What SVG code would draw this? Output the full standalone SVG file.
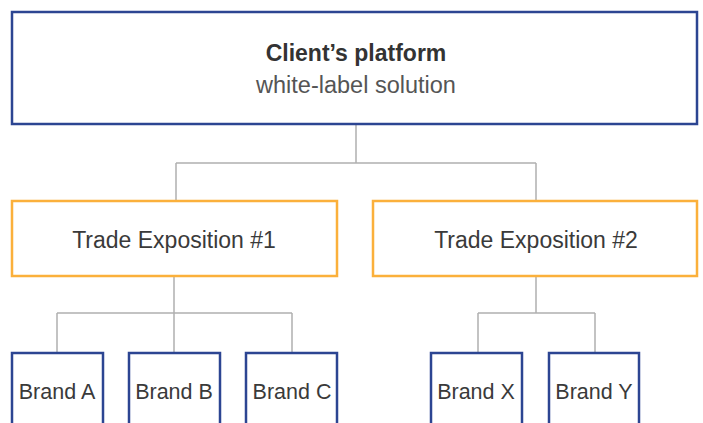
<svg xmlns="http://www.w3.org/2000/svg" width="703" height="423" viewBox="0 0 703 423">
<style>
.navy{fill:#fff;stroke:#2c4592;stroke-width:2.5}
.orange{fill:#fff;stroke:#fbb03b;stroke-width:2.5}
.conn{fill:none;stroke:#b0b0b0;stroke-width:1.5}
text{font-family:"Liberation Sans",Arial,sans-serif;text-anchor:middle;fill:#3a3a3a}
.title{font-size:23px;font-weight:bold;fill:#333}
.sub{font-size:23.5px;fill:#555}
.te{font-size:23px}
.br{font-size:21.5px}
</style>
<rect width="703" height="423" fill="#fff"/>
<g id="connectors">
<path class="conn" d="M356 124V163M176 163H536M176 163V201M536 163V201"/>
<path class="conn" d="M174 277V313M57 313H292M57 313V352M174 313V352M292 313V352"/>
<path class="conn" d="M536 277V313M478 313H595M478 313V352M595 313V352"/>
</g>
<g id="client">
<rect class="navy" x="12" y="12" width="685" height="112"/>
<text class="title" x="356" y="61">Client’s platform</text>
<text class="sub" x="356" y="93">white-label solution</text>
</g>
<g id="te1">
<rect class="orange" x="12" y="201" width="325" height="75"/>
<text class="te" x="174" y="248">Trade Exposition #1</text>
</g>
<g id="te2">
<rect class="orange" x="373" y="201" width="324" height="75"/>
<text class="te" x="536" y="248">Trade Exposition #2</text>
</g>
<g id="brandA">
<rect class="navy" x="12" y="353" width="91" height="90"/>
<text class="br" x="57" y="399">Brand A</text>
</g>
<g id="brandB">
<rect class="navy" x="129" y="353" width="91" height="90"/>
<text class="br" x="174" y="399">Brand B</text>
</g>
<g id="brandC">
<rect class="navy" x="246" y="353" width="91" height="90"/>
<text class="br" x="292" y="399">Brand C</text>
</g>
<g id="brandX">
<rect class="navy" x="431" y="353" width="91" height="90"/>
<text class="br" x="476" y="399">Brand X</text>
</g>
<g id="brandY">
<rect class="navy" x="549" y="353" width="90" height="90"/>
<text class="br" x="594" y="399">Brand Y</text>
</g>
</svg>
